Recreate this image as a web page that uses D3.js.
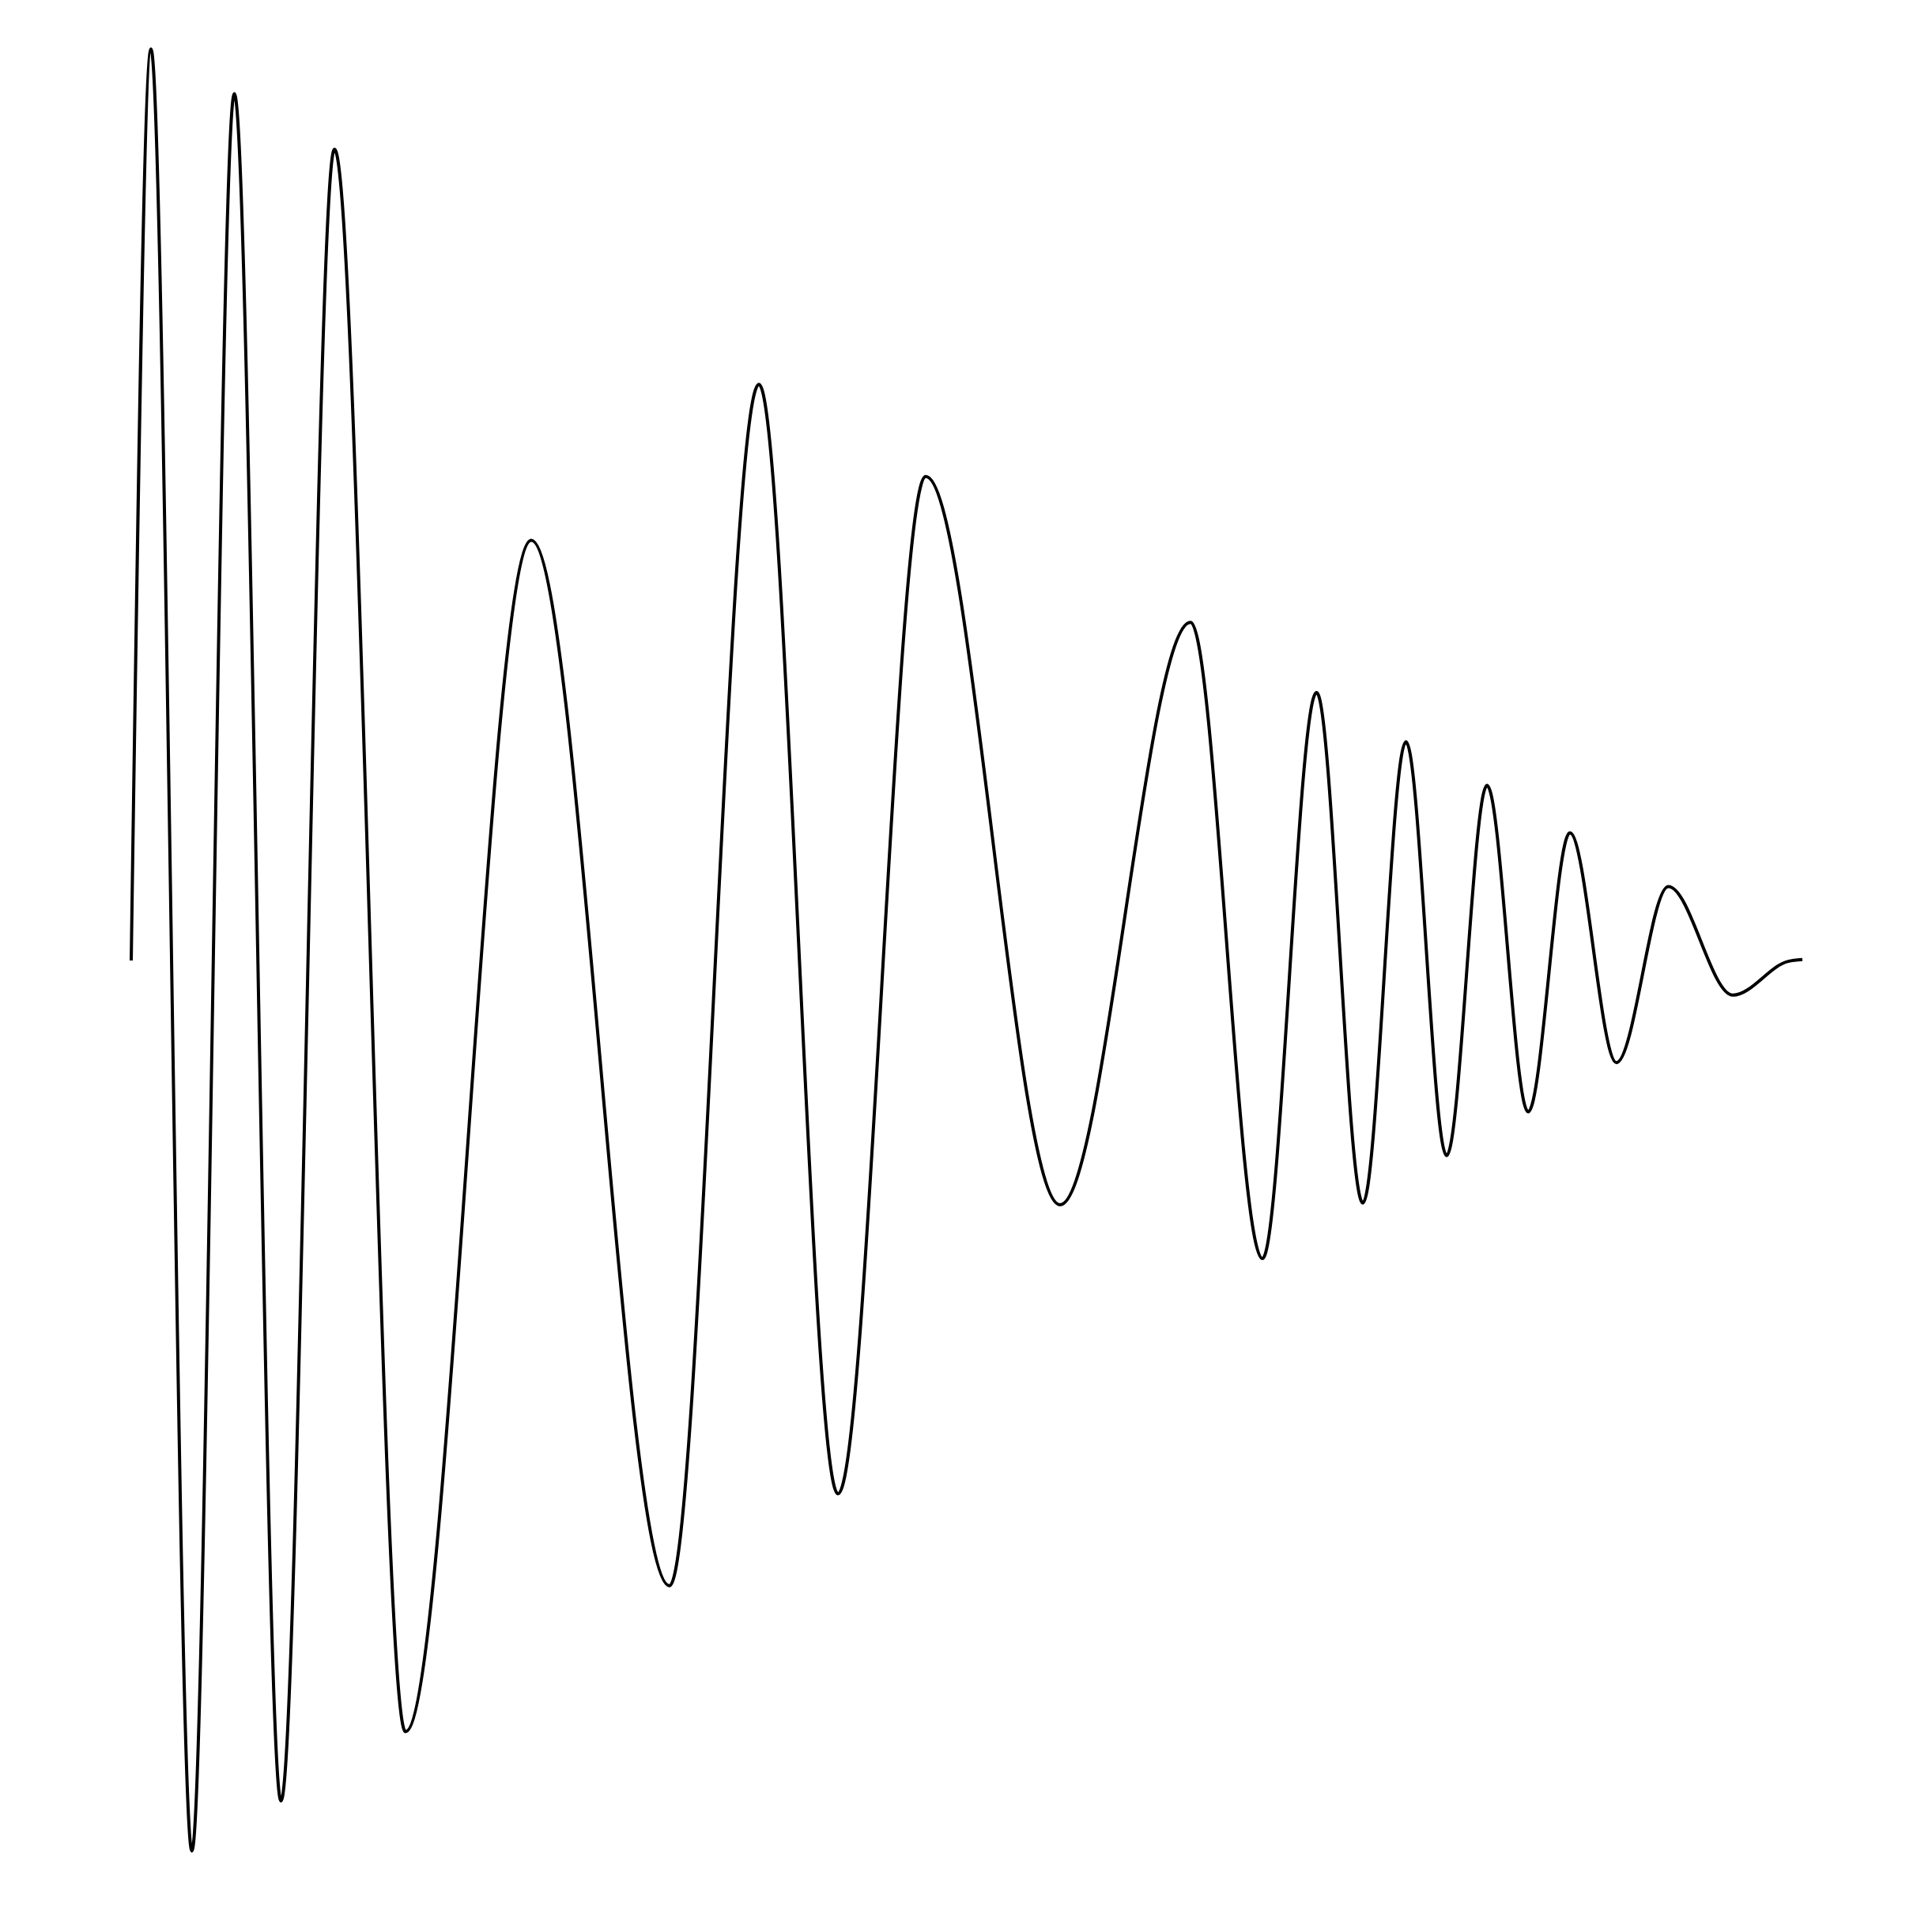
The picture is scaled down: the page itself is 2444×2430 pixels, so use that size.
<!DOCTYPE html>
<html>
<head>
<meta charset="utf-8">
<script src="https://cdn.jsdelivr.net/npm/d3@7"></script>
<style>
  html, body { margin: 0; padding: 0; background: #ffffff; }
  svg { display: block; }
</style>
</head>
<body>
<div id="chart"></div>
<script>
// Time position (0–100) of each turning point of the waveform
const timePoints = [0, 1.18, 3.63, 6.17, 8.96, 12.16, 16.41, 23.94, 32.21, 37.56, 42.29, 47.54, 55.58, 63.39, 67.69, 70.93, 73.70, 76.28, 78.71, 81.13, 83.59, 86.09, 88.88, 91.98, 95.84, 99.15, 100];
// Amplitude (-1..1) at each turning point
const amplitudes = [0, 1.000, -0.977, 0.951, -0.922, 0.890, -0.846, 0.461, -0.686, 0.632, -0.585, 0.531, -0.268, 0.371, -0.327, 0.294, -0.266, 0.240, -0.214, 0.192, -0.166, 0.140, -0.112, 0.081, -0.038, -0.001, 0.001];

const width = 2444, height = 2430;
const margin = { top: 62, right: 164, bottom: 62, left: 166 };

const svg = d3.select("#chart").append("svg")
  .attr("width", width).attr("height", height);

const x = d3.scaleLinear().domain([0, 100]).range([margin.left, width - margin.right]);
const y = d3.scaleLinear().domain([-1, 1]).range([height - margin.bottom, margin.top]);

const data = timePoints.map((t, i) => ({ t, a: amplitudes[i] }));

const line = d3.line()
  .x(d => x(d.t))
  .y(d => y(d.a))
  .curve(d3.curveMonotoneX);

svg.append("path")
  .datum(data)
  .attr("fill", "none")
  .attr("stroke", "#000")
  .attr("stroke-width", 4)
  .attr("d", line);
</script>
</body>
</html>
